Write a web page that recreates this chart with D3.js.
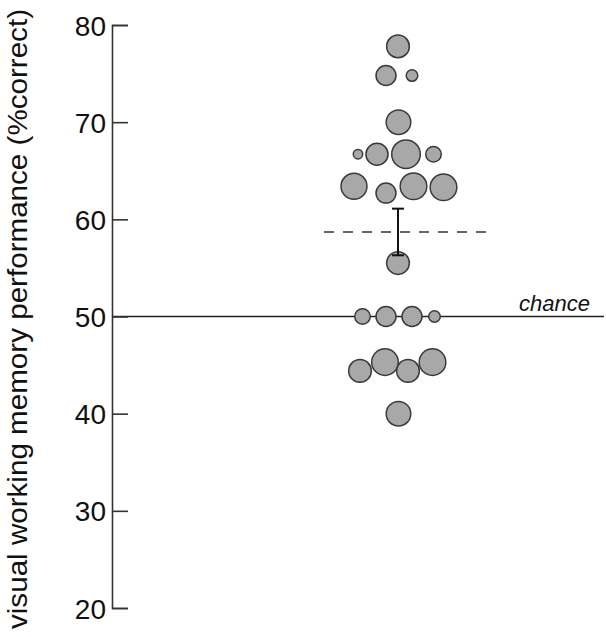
<!DOCTYPE html>
<html>
<head>
<meta charset="utf-8">
<script src="https://cdn.jsdelivr.net/npm/d3@7"></script>
<style>
  body { margin: 0; background: #fff; }
  svg { display: block; font-family: "Liberation Sans", Arial, sans-serif; }
</style>
</head>
<body>
<div id="chart"></div>
<script>
// one entry per bubble: score, horizontal swarm offset, bubble weight
const scores  = [77.8, 74.8, 74.8, 70.0, 66.7, 66.7, 66.7, 66.7, 63.4, 62.7, 63.4, 63.3, 55.5, 50.0, 50.0, 50.0, 50.0, 44.4, 45.3, 44.4, 45.3, 40.0];
const offsets = [0, -12, 14, 0.5, -40, -21, 8, 35.5, -44, -12, 15.5, 45.5, 0, -35.5, -12, 14, 36.5, -38, -13, 10, 34.5, 0.5];
const weights = [5.8, 4.5, 1.5, 6.8, 1, 5.5, 9.2, 2.7, 7.6, 4.5, 8, 8, 5.8, 2.7, 4.5, 4.5, 1.5, 5.8, 8, 5.8, 8, 6.8];

const yTicks = [20, 30, 40, 50, 60, 70, 80];
const chance = 50;
const meanScore = 58.7;
const semLow = 56.3;
const semHigh = 61.1;

const width = 606, height = 637;
const margin = { top: 25, right: 2, bottom: 29, left: 112 };

const svg = d3.select("#chart").append("svg")
    .attr("width", width)
    .attr("height", height);

const y = d3.scaleLinear()
    .domain([20, 80])
    .range([height - margin.bottom, margin.top]);

const x = d3.scaleLinear()
    .domain([-50, 50])
    .range([348, 448]);

const r = d3.scaleSqrt()
    .domain([0, 10])
    .range([0, 14.9]);

// chance line
svg.append("line")
    .attr("x1", margin.left)
    .attr("x2", width - margin.right)
    .attr("y1", y(chance))
    .attr("y2", y(chance))
    .attr("stroke", "#222")
    .attr("stroke-width", 1.6);

svg.append("text")
    .attr("x", 590)
    .attr("y", y(chance) - 6)
    .attr("text-anchor", "end")
    .attr("font-size", "22px")
    .attr("font-style", "italic")
    .attr("fill", "#111")
    .text("chance");

// y axis, ticks pointing inward
const axis = svg.append("g")
    .attr("transform", `translate(${margin.left},0)`)
    .call(d3.axisRight(y).tickValues(yTicks).tickSize(16).tickFormat(d3.format("d")));

axis.select(".domain").attr("stroke", "#333").attr("stroke-width", 1.6);
axis.selectAll(".tick line").attr("stroke", "#333").attr("stroke-width", 1.6);
axis.selectAll(".tick text")
    .attr("x", -6)
    .attr("dy", "0.36em")
    .attr("text-anchor", "end")
    .attr("font-size", "28px")
    .attr("fill", "#111");

svg.append("text")
    .attr("transform", `translate(27,319) rotate(-90)`)
    .attr("text-anchor", "middle")
    .attr("font-size", "27px")
    .attr("textLength", 620)
    .attr("lengthAdjust", "spacingAndGlyphs")
    .attr("fill", "#111")
    .text("visual working memory performance (%correct)");

// bubbles
svg.append("g")
    .selectAll("circle")
    .data(scores.map((s, i) => ({ score: s, off: offsets[i], w: weights[i] })))
    .join("circle")
    .attr("cx", d => x(d.off))
    .attr("cy", d => y(d.score))
    .attr("r", d => r(d.w))
    .attr("fill", "#a8a8a8")
    .attr("stroke", "#3a3a3a")
    .attr("stroke-width", 1.5);

// mean and error bar
svg.append("line")
    .attr("x1", 324)
    .attr("x2", 490)
    .attr("y1", y(meanScore))
    .attr("y2", y(meanScore))
    .attr("stroke", "#333")
    .attr("stroke-width", 1.6)
    .attr("stroke-dasharray", "10,9");

const eb = svg.append("g").attr("stroke", "#111").attr("stroke-width", 2);
eb.append("line")
    .attr("x1", x(0)).attr("x2", x(0))
    .attr("y1", y(semHigh)).attr("y2", y(semLow));
[semHigh, semLow].forEach(v => {
    eb.append("line")
        .attr("x1", x(0) - 6).attr("x2", x(0) + 6)
        .attr("y1", y(v)).attr("y2", y(v));
});
</script>
</body>
</html>
